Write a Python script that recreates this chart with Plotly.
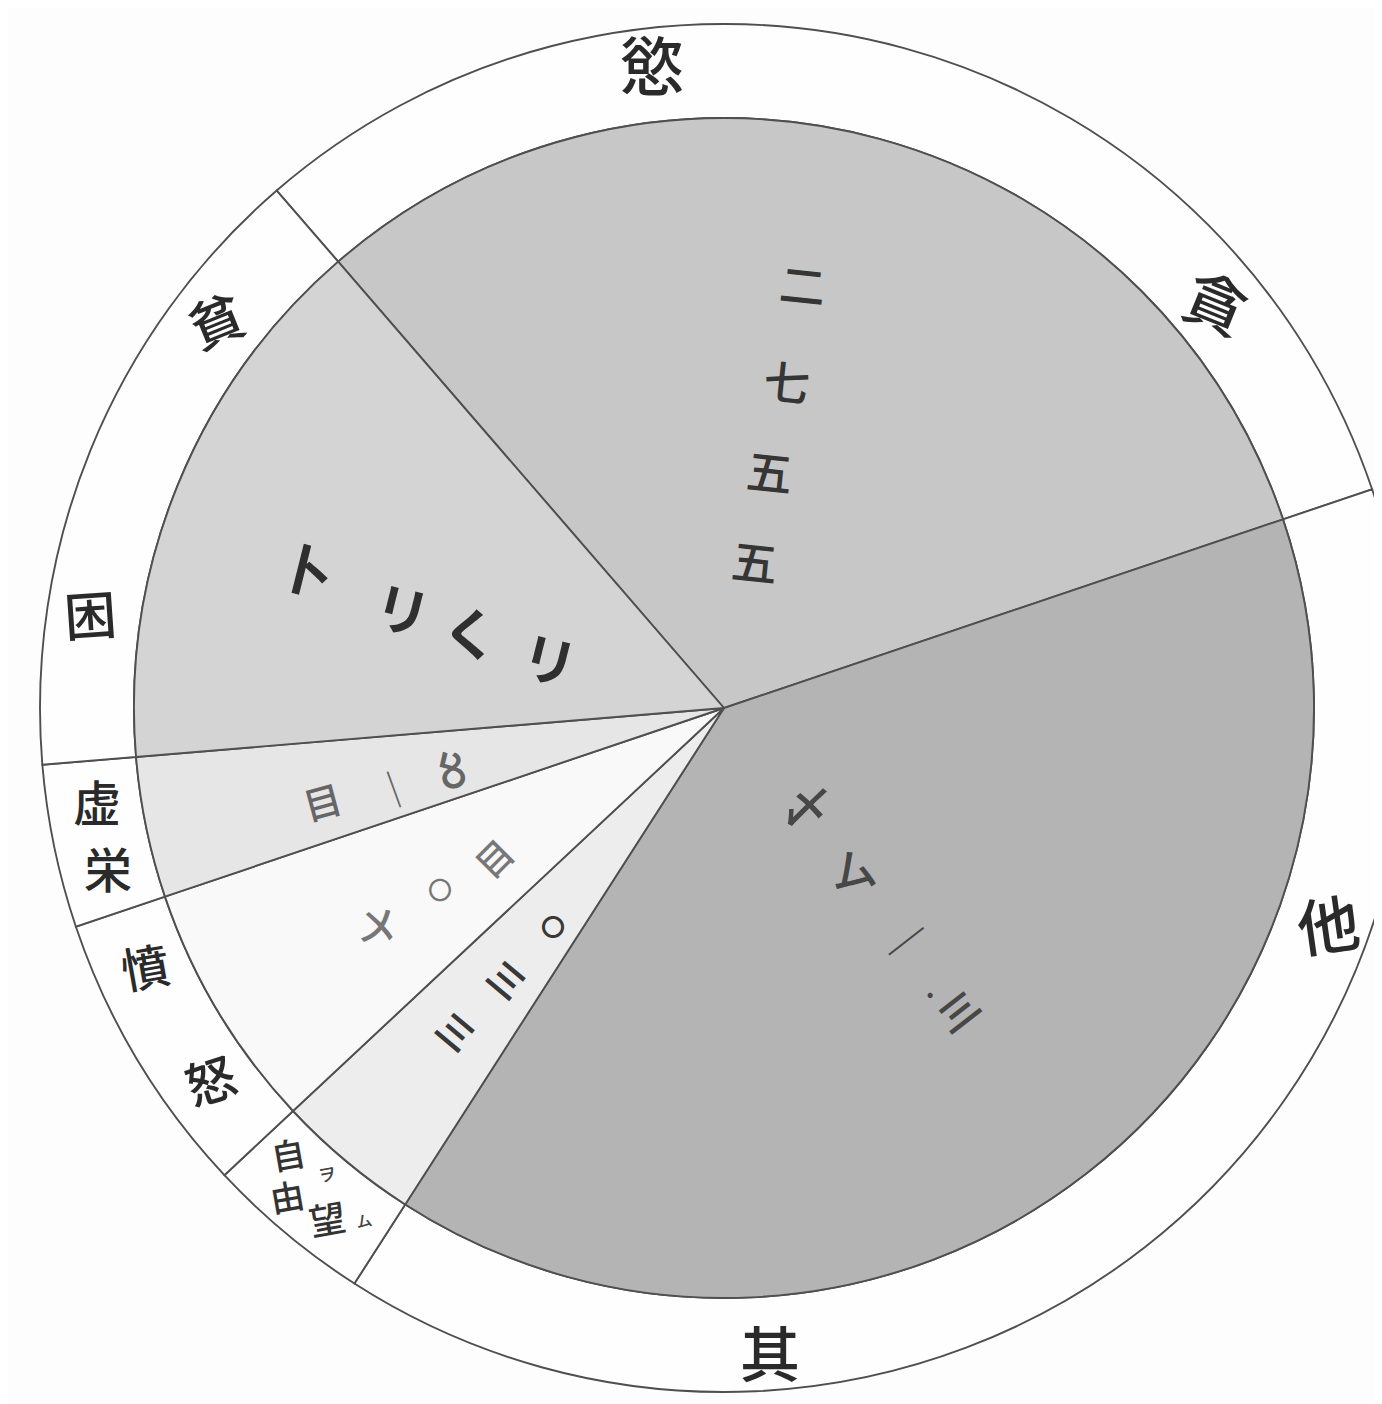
import plotly.graph_objects as go

# ---------------- data ----------------
categories = ["貪慾", "其他", "自由ヲ望ム", "憤怒", "虚栄", "貧困"]
values = [2755, 3471, 349, 600, 341, 1324]

# numeral glyphs written inside each slice (as in the original)
num_greed = ["二", "七", "五", "五"]
num_other = ["〆", "ム", "｜", "·", "〣"]
num_freedom = ["〇", "三", "三"]
num_anger = ["〤", "〇", "目"]
num_vanity = ["目", "｜", "〥"]
num_poverty = ["卜", "リ", "く", "リ"]

# ---------------- geometry / style ----------------
OFF = 8                    # page body margin of the viewer
W, H = 1402, 1396          # figure size (ring runs off the right edge, as in the original)
CX, CY = 724 - OFF, 708 - OFF   # centre of the disc in figure px
R_PIE = 590                # pie radius (px)
R_OUT = 684                # outer ring radius (px)
RP = 686                   # polar subplot radius (px)
START = -40.84             # angle (clockwise from 12 o'clock) where first slice starts

fills = ["#c7c7c7", "#b4b4b4", "#ededed", "#f9f9f9", "#e6e6e6", "#d4d4d4"]
LINE = "#4f4f4f"
FONT = "Noto Sans CJK JP"

total = float(sum(values))
widths = [v / total * 360.0 for v in values]
mids = []
acc = START
for w in widths:
    mids.append(acc + w / 2.0)
    acc += w

fig = go.Figure()

# outer label ring
fig.add_trace(go.Barpolar(theta=mids, width=widths, base=[R_PIE] * len(values),
                          r=[R_OUT - R_PIE] * len(values),
                          marker=dict(color="#fefefe", line=dict(color=LINE, width=1.9)),
                          hoverinfo="skip", showlegend=False))

# pie (disc)
fig.add_trace(go.Barpolar(theta=mids, width=widths, base=[0] * len(values),
                          r=[R_PIE] * len(values), text=categories,
                          marker=dict(color=fills, line=dict(color=LINE, width=1.9)),
                          hovertemplate="%{text}<extra></extra>", showlegend=False))

ann = []


def px_ann(text, x, y, size, angle=0, color="#333333", weight=500):
    # x, y given in reference-image pixels
    ann.append(dict(text=text, x=(x - OFF) / W, y=1 - (y - OFF) / H, xref="paper", yref="paper",
                    showarrow=False, xanchor="center", yanchor="middle",
                    textangle=angle,
                    font=dict(family=FONT, size=size, color=color, weight=weight)))


# ring labels
RC = "#2a2a2a"
px_ann("慾", 652, 62, 64, 0, RC)
px_ann("貪", 1217, 300, 62, 22, RC)
px_ann("他", 1328, 922, 62, -8, RC)
px_ann("其", 770, 1350, 60, 0, RC)
px_ann("貧", 215, 318, 54, -22, RC)
px_ann("困", 90, 612, 52, -4, RC)
px_ann("虚", 97, 800, 48, 0, RC)
px_ann("栄", 108, 867, 48, 0, RC)
px_ann("憤", 145, 965, 48, -10, RC)
px_ann("怒", 210, 1078, 50, -18, RC)
px_ann("自", 288, 1153, 34, -10, "#333333")
px_ann("由", 287, 1195, 34, -10, "#333333")
px_ann("ヲ", 327, 1173, 18, -10, "#444444")
px_ann("望", 327, 1217, 36, -10, "#333333")
px_ann("ム", 364, 1220, 16, -10, "#444444")

# numerals inside slices
for t, (x, y) in zip(num_greed, [(803, 283), (787, 380), (770, 470), (755, 560)]):
    px_ann(t, x, y, 46, 6, "#353535")

other_pos = [(807, 803, 8, 48), (853, 867, -8, 46), (908, 940, 52, 44), (930, 993, 0, 32), (960, 1010, 52, 44)]
for t, (x, y, a, s) in zip(num_other, other_pos):
    px_ann(t, x, y, s, a, "#474747")

poverty_pos = [(307, 567, 14, 54), (403, 607, 14, 54), (470, 630, 0, 56), (550, 657, 14, 54)]
for t, (x, y, a, s) in zip(num_poverty, poverty_pos):
    px_ann(t, x, y, s, a, "#2f2f2f", 700)

vanity_pos = [(322, 800, -15, 38), (393, 787, -20, 38), (452, 767, -10, 46)]
for t, (x, y, a, s) in zip(num_vanity, vanity_pos):
    px_ann(t, x, y, s, a, "#666666")

anger_pos = [(377, 923, 0, 40), (440, 888, 0, 24), (493, 857, -45, 36)]
for t, (x, y, a, s) in zip(num_anger, anger_pos):
    px_ann(t, x, y, s, a, "#777777")

freedom_pos = [(553, 925, 0, 24), (508, 978, 40, 36), (457, 1030, 40, 36)]
for t, (x, y, a, s) in zip(num_freedom, freedom_pos):
    px_ann(t, x, y, s, a, "#383838", 700)

fig.update_layout(
    width=W, height=H,
    margin=dict(l=0, r=0, t=0, b=0),
    paper_bgcolor="#fdfdfd",
    plot_bgcolor="#fdfdfd",
    showlegend=False,
    annotations=ann,
    polar=dict(
        domain=dict(x=[(CX - RP) / W, min(1.0, (CX + RP) / W)],
                    y=[(H - CY - RP) / H, (H - CY + RP) / H]),
        bgcolor="rgba(0,0,0,0)",
        barmode="overlay",
        hole=0,
        radialaxis=dict(range=[0, RP], visible=False, showgrid=False),
        angularaxis=dict(rotation=90, direction="clockwise", visible=False,
                         showgrid=False, showline=False, ticks=""),
    ),
)

fig.write_html("out.html")
